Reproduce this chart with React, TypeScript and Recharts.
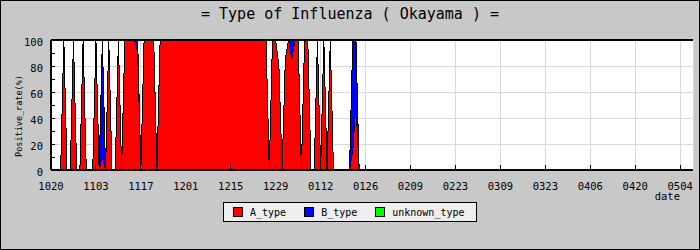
import { Area, AreaChart, CartesianGrid, ReferenceLine, XAxis, YAxis } from "recharts";

// day offsets from 10/20, one sample per day
const aType = [
  0, 0, 0, 0, 100, 0, 0, 100, 0, 0,
  100, 0, 0, 0, 100, 0, 10, 0, 100, 0,
  0, 100, 0, 100, 100, 100, 100, 90, 0, 100,
  100, 100, 100, 0, 100, 100, 100, 100, 100, 100,
  100, 100, 100, 100, 100, 100, 100, 100, 100, 100,
  100, 100, 100, 100, 100, 100, 100, 100, 100, 100,
  100, 100, 100, 100, 100, 100, 100, 100, 0, 100,
  100, 80, 0, 85, 100, 85, 100, 100, 0, 100,
  100, 0, 0, 100, 0, 100, 0, 100, 0, 0,
  0, 0, 0, 0, 15, 50, 0,
];
const bType = [
  0, 0, 0, 0, 0, 0, 0, 0, 0, 0,
  0, 0, 0, 0, 0, 0, 90, 0, 0, 0,
  0, 0, 0, 0, 0, 0, 0, 10, 0, 0,
  0, 0, 0, 0, 0, 0, 0, 0, 0, 0,
  0, 0, 0, 0, 0, 0, 0, 0, 0, 0,
  0, 0, 0, 0, 0, 0, 0, 0, 0, 0,
  0, 0, 0, 0, 0, 0, 0, 0, 0, 0,
  0, 0, 0, 0, 0, 15, 0, 0, 0, 0,
  0, 0, 0, 0, 0, 0, 0, 0, 0, 0,
  0, 0, 0, 0, 85, 50, 0,
];
const unknownType = [
  0, 0, 0, 0, 0, 0, 0, 0, 0, 0,
  0, 0, 0, 0, 0, 0, 0, 0, 0, 0,
  0, 0, 0, 0, 0, 0, 0, 0, 0, 0,
  0, 0, 0, 0, 0, 0, 0, 0, 0, 0,
  0, 0, 0, 0, 0, 0, 0, 0, 0, 0,
  0, 0, 0, 0, 0, 0, 0, 0, 0, 0,
  0, 0, 0, 0, 0, 0, 0, 0, 0, 0,
  0, 0, 0, 0, 0, 0, 0, 0, 0, 0,
  0, 0, 0, 0, 0, 0, 0, 0, 0, 0,
  0, 0, 0, 0, 0, 0, 0,
];

const tickDays = [0, 14, 28, 42, 56, 70, 84, 98, 112, 126, 140, 154, 168, 182, 196];
const tickLabels = ["1020", "1103", "1117", "1201", "1215", "1229", "0112", "0126", "0209", "0223", "0309", "0323", "0406", "0420", "0504"];
const yTicks = [0, 10, 20, 30, 40, 50, 60, 70, 80, 90, 100];

const series = [
  { key: "A_type", values: aType, color: "#ff0000" },
  { key: "B_type", values: bType, color: "#0000ff" },
  { key: "unknown_type", values: unknownType, color: "#00ff00" },
];

const data = aType.map((_, i) => ({
  day: i,
  A_type: aType[i],
  B_type: bType[i],
  unknown_type: unknownType[i],
}));

const FONT = "'DejaVu Sans Mono', monospace";

const XTick = (props: any) => {
  const { x, y, payload } = props;
  const idx = tickDays.indexOf(payload.value);
  return (
    <g>
      <line x1={x} x2={x} y1={y - 13} y2={y - 17} stroke="#000" />
      <text x={x} y={y} dy={8} textAnchor="middle" fontSize={10.5} fontFamily={FONT} fill="#000">
        {tickLabels[idx]}
      </text>
    </g>
  );
};

const YTick = (props: any) => {
  const { x, y, payload } = props;
  return (
    <g>
      <line x1={x + 8} x2={x + 12} y1={y} y2={y} stroke="#000" />
      {payload.value % 20 === 0 && (
        <text x={x} y={y} dy={6} textAnchor="end" fontSize={10.5} fontFamily={FONT} fill="#000">
          {payload.value}
        </text>
      )}
    </g>
  );
};

const YLabel = (props: any) => {
  const { x, y, height } = props.viewBox;
  const cx = x + 22;
  const cy = y + height / 2 + 11;
  return (
    <text x={cx} y={cy} transform={`rotate(-90 ${cx} ${cy})`} textAnchor="middle" fontSize={8.5} fontFamily={FONT} fill="#000">
      Positive_rate(%)
    </text>
  );
};

export default function App() {
  return (
    <div style={{ position: "absolute", left: 0, top: 0, width: 700, height: 250, background: "#c8c8c8", fontFamily: FONT }}>
      <div style={{ position: "absolute", left: 0, top: 6, width: 700, textAlign: "center", fontSize: 15, lineHeight: "17px" }}>
        = Type of Influenza ( Okayama ) =
      </div>
      <AreaChart width={700} height={250} data={data} margin={{ top: 40, right: 7, bottom: 50, left: 0 }} style={{ shapeRendering: "crispEdges" }}>
        <CartesianGrid fill="#ffffff" stroke="#d8d8d8" horizontalValues={[20, 40, 60, 80]} />
        <XAxis
          type="number"
          dataKey="day"
          domain={[0, 200]}
          ticks={tickDays}
          height={30}
          tickSize={0}
          tickMargin={12}
          tickLine={false}
          axisLine={{ stroke: "#000", strokeWidth: 2 }}
          tick={<XTick />}
          interval={0}
        />
        <YAxis
          type="number"
          domain={[0, 100]}
          ticks={yTicks}
          width={51}
          tickSize={0}
          tickMargin={8}
          tickLine={false}
          axisLine={{ stroke: "#000", strokeWidth: 2 }}
          tick={<YTick />}
          interval={0}
          label={{ content: <YLabel /> }}
        />
        {series.map((s) => (
          <Area
            key={s.key}
            type="linear"
            dataKey={s.key}
            stackId="t"
            fill={s.color}
            fillOpacity={1}
            stroke="#000"
            strokeWidth={1}
            dot={false}
            activeDot={false}
            isAnimationActive={false}
          />
        ))}
        <ReferenceLine y={100} stroke="#000" strokeWidth={2} />
      </AreaChart>
      <div style={{ position: "absolute", left: 640, top: 190, width: 40, textAlign: "right", fontSize: 10.5, lineHeight: "12px" }}>date</div>
      <div
        style={{
          position: "absolute", left: 223, top: 202, width: 254, height: 20, boxSizing: "border-box",
          background: "#eeeeee", border: "1px solid #000", display: "flex", alignItems: "center", fontSize: 10,
        }}
      >
        {series.map((s, i) => (
          <div key={s.key} style={{ display: "flex", alignItems: "center", marginLeft: i === 0 ? 9 : 18 }}>
            <span style={{ width: 10, height: 10, boxSizing: "border-box", background: s.color, border: "1px solid #000", marginRight: 7 }} />
            <span>{s.key}</span>
          </div>
        ))}
      </div>
      <div style={{ position: "absolute", left: 0, top: 0, width: 700, height: 250, boxSizing: "border-box", border: "1px solid #000", pointerEvents: "none" }} />
    </div>
  );
}
